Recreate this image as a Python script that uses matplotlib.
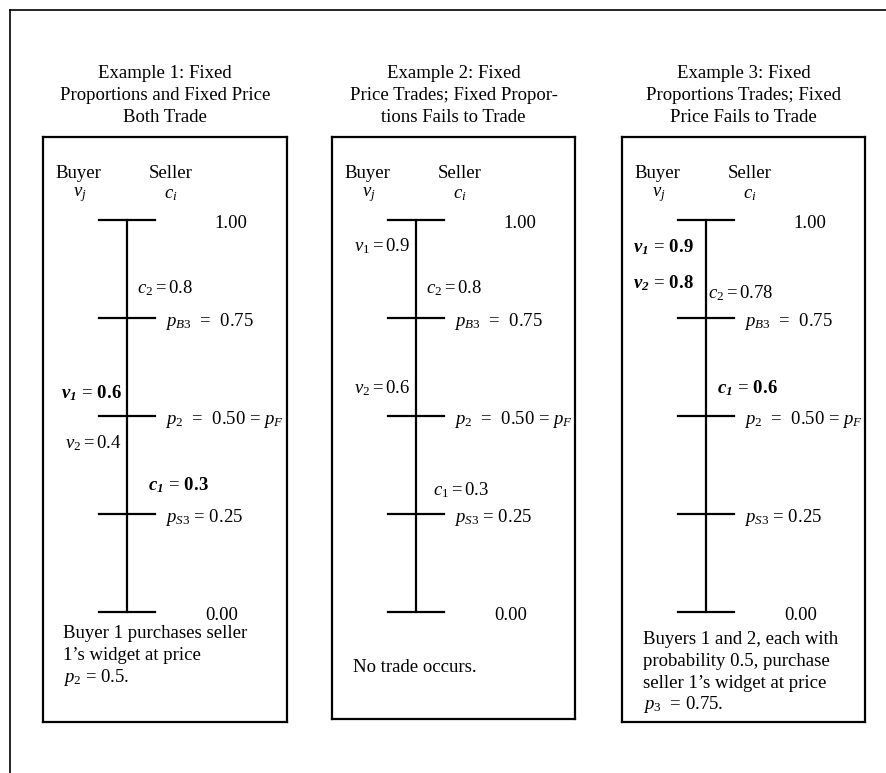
import matplotlib
matplotlib.use("Agg")
import matplotlib.pyplot as plt
from matplotlib.lines import Line2D

plt.rcParams['font.family'] = ['Liberation Serif', 'DejaVu Serif']
plt.rcParams['mathtext.fontset'] = 'custom'
plt.rcParams['mathtext.rm'] = 'Liberation Serif'
plt.rcParams['mathtext.it'] = 'Liberation Serif:italic'
plt.rcParams['mathtext.bf'] = 'Liberation Serif:bold'
plt.rcParams['mathtext.bfit'] = 'Liberation Serif:bold:italic'

# --- data -------------------------------------------------------------
ticks = [0.00, 0.25, 0.50, 0.75, 1.00]
tick_labels = ["0.00",
               r"$p_{\mathit{S3}}$ = 0.25",
               r"$p_2$  =  0.50 = $p_F$",
               r"$p_{\mathit{B3}}$  =  0.75",
               "1.00"]

buyer_values = [[0.6, 0.4], [0.9, 0.6], [0.9, 0.8]]     # v1, v2
seller_costs = [[0.3, 0.8], [0.3, 0.8], [0.6, 0.78]]    # c1, c2
buyer_bold = [[True, False], [False, False], [True, True]]
seller_bold = [[True, False], [False, False], [True, False]]

titles = [
    ["Example 1: Fixed", "Proportions and Fixed Price", "Both Trade"],
    ["Example 2: Fixed", "Price Trades; Fixed Propor-", "tions Fails to Trade"],
    ["Example 3: Fixed", "Proportions Trades; Fixed", "Price Fails to Trade"],
]
notes = [
    ["Buyer 1 purchases seller", "1\u2019s widget at price", r"$p_2$ = 0.5."],
    ["No trade occurs."],
    ["Buyers 1 and 2, each with", "probability 0.5, purchase",
     "seller 1\u2019s widget at price", r"$p_3$  = 0.75."],
]

# --- layout (pixels) ----------------------------------------------------
W, H = 886, 773
boxes = [(43, 287, 137, 722), (332, 575, 137, 719), (622, 865, 137, 722)]
Y0, Y1 = 612, 220          # pixel rows of 0.00 and 1.00
axis_x, tick_half = 84, 28
tick_x = [162, 122, 122, 122, 171]
buyer_pos = [[(79, 393, 'right'), (79, 443, 'right')],
             [(78, 246, 'right'), (78, 388, 'right')],
             [(11, 247, 'left'), (11, 283, 'left')]]
seller_pos = [[(105, 485), (94, 288)],
              [(101, 490), (94, 288)],
              [(95, 388), (86, 293)]]
note_pos = [(20, 633, 22), (21, 668, 22), (21, 640, 21.5)]
fs = 13.5


def val(py):
    return (Y0 - py) / (Y0 - Y1)


def fmt_label(sym, i, v, bold):
    if bold:
        return r"$\mathbfit{%s}_{\mathbfit{%d}}\,=\,\mathbf{%s}$" % (sym, i, v)
    if sym == 'v':
        return r"$%s_{\mathit{%d}} = %s$" % (sym, i, v)
    return r"$%s_{%d} = %s$" % (sym, i, v)


fig = plt.figure(figsize=(W / 100, H / 100), dpi=100)

# outer frame (only top and left visible)
fig.add_artist(Line2D([10 / W, 10 / W], [1 - 10 / H, 0], color='black', lw=1.2))
fig.add_artist(Line2D([10 / W, 1], [1 - 10 / H, 1 - 10 / H], color='black', lw=1.2))

for k, (l, r, t, b) in enumerate(boxes):
    ax = fig.add_axes([l / W, 1 - b / H, (r - l) / W, (b - t) / H])
    ax.set_xlim(0, r - l)
    ax.set_ylim(val(b), val(t))
    ax.set_xticks([])
    ax.set_yticks([])
    for s in ax.spines.values():
        s.set_linewidth(1.6)

    # scale
    ax.plot([axis_x, axis_x], [ticks[0], ticks[-1]], color='black', lw=1.6)
    for tv, tl, tx in zip(ticks, tick_labels, tick_x):
        ax.plot([axis_x - tick_half, axis_x + tick_half], [tv, tv], color='black', lw=1.6)
        ax.text(tx, tv - 0.008, tl, fontsize=fs, ha='left', va='center')

    ax.text(35, val(174), "Buyer", fontsize=fs, ha='center', va='center')
    ax.text(128, val(174), "Seller", fontsize=fs, ha='center', va='center')
    ax.text(37, val(195), r"$v_j$", fontsize=fs, ha='center', va='center')
    ax.text(128, val(195), r"$c_i$", fontsize=fs, ha='center', va='center')

    for i, (v, bd, (px, py, ha)) in enumerate(zip(buyer_values[k], buyer_bold[k], buyer_pos[k])):
        ax.text(px, val(py), fmt_label('v', i + 1, v, bd), fontsize=fs, ha=ha, va='center')
    for i, (c, bd, (px, py)) in enumerate(zip(seller_costs[k], seller_bold[k], seller_pos[k])):
        ax.text(px, val(py), fmt_label('c', i + 1, c, bd), fontsize=fs, ha='left', va='center')

    nx, ny, dy = note_pos[k]
    for j, line in enumerate(notes[k]):
        ax.text(nx, val(ny + j * dy), line, fontsize=fs, ha='left', va='center')

    cx = (l + r) / 2 / W
    for j, line in enumerate(titles[k]):
        fig.text(cx, 1 - (73 + j * 22) / H, line, fontsize=fs, ha='center', va='center')

fig.savefig("out.png", dpi=100, facecolor='white')
